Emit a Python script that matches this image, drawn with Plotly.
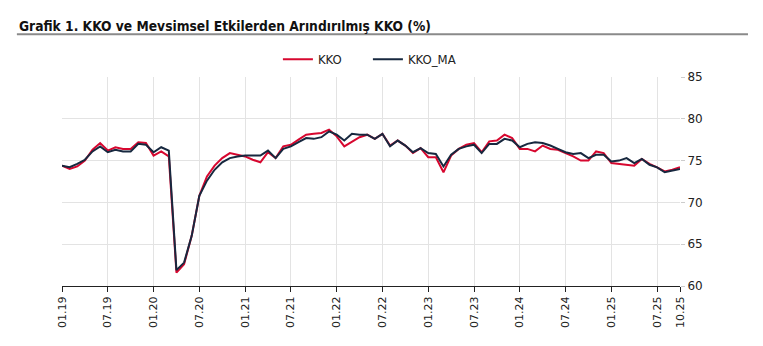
import plotly.graph_objects as go

# Monthly periods, Jan 2019 – Oct 2025
periods = [f"{m:02d}.{y % 100:02d}" for y in range(2019, 2026) for m in range(1, 13)][:82]

tick_labels = ["01.19", "07.19", "01.20", "07.20", "01.21", "07.21", "01.22",
               "07.22", "01.23", "07.23", "01.24", "07.24", "01.25", "07.25", "10.25"]

kko = [74.4, 74.0, 74.3, 75.0, 76.3, 77.1, 76.2, 76.6, 76.4, 76.4, 77.2, 77.1,
       75.6, 76.1, 75.5, 61.6, 62.6, 66.0, 70.8, 73.1, 74.4, 75.3, 75.9, 75.7,
       75.5, 75.1, 74.8, 76.0, 75.3, 76.7, 76.9, 77.5, 78.1, 78.2, 78.3, 78.7,
       77.9, 76.7, 77.3, 77.8, 78.1, 77.6, 78.2, 76.8, 77.4, 76.8, 75.9, 76.5,
       75.4, 75.4, 73.6, 75.6, 76.4, 76.9, 77.1, 76.0, 77.3, 77.4, 78.1, 77.7,
       76.4, 76.4, 76.1, 76.8, 76.4, 76.3, 75.9, 75.5, 75.0, 75.0, 76.1, 75.9,
       74.7, 74.6, 74.5, 74.4, 75.2, 74.6, 74.2, 73.7, 73.9, 74.2]

kko_ma = [74.4, 74.2, 74.6, 75.1, 76.1, 76.7, 76.0, 76.3, 76.1, 76.1, 77.0, 76.9,
          76.0, 76.6, 76.2, 61.9, 62.8, 66.0, 70.8, 72.6, 73.9, 74.8, 75.3, 75.5,
          75.6, 75.6, 75.6, 76.2, 75.3, 76.4, 76.7, 77.2, 77.7, 77.6, 77.8, 78.5,
          78.1, 77.4, 78.2, 78.1, 78.1, 77.6, 78.2, 76.7, 77.4, 76.8, 76.0, 76.5,
          75.9, 75.8, 74.3, 75.7, 76.4, 76.7, 76.9, 75.9, 77.0, 77.0, 77.6, 77.4,
          76.6, 77.0, 77.2, 77.1, 76.8, 76.4, 76.0, 75.8, 75.9, 75.3, 75.7, 75.7,
          74.9, 75.0, 75.3, 74.7, 75.2, 74.5, 74.2, 73.6, 73.8, 74.0]

RED = "#D7072F"
NAVY = "#17283F"
NARROW = "Liberation Sans Narrow, DejaVu Sans Condensed, Roboto"

fig = go.Figure()
fig.add_trace(go.Scatter(x=periods, y=kko, name="KKO", mode="lines",
                         line=dict(color=RED, width=2)))
fig.add_trace(go.Scatter(x=periods, y=kko_ma, name="KKO_MA", mode="lines",
                         line=dict(color=NAVY, width=2)))

# Title and rule beneath it
fig.add_annotation(text="<b>Grafik 1. KKO ve Mevsimsel Etkilerden Arındırılmış KKO (%)</b>",
                   xref="paper", yref="paper", x=-0.073, y=1.245,
                   xanchor="left", yanchor="middle", showarrow=False,
                   font=dict(family=NARROW, size=13.7, color="#111111"))
fig.add_shape(type="line", xref="paper", yref="paper",
              x0=-0.073, x1=1.11, y0=1.205, y1=1.205,
              line=dict(color="#8a8a8a", width=2))

fig.update_layout(
    width=763, height=346,
    margin=dict(l=62, r=83, t=77, b=60),
    paper_bgcolor="white", plot_bgcolor="white",
    showlegend=True,
    legend=dict(orientation="h", x=0.495, xanchor="center", y=1.085, yanchor="middle",
                font=dict(family=NARROW, size=13, color="#222222"),
                itemwidth=30, traceorder="normal", entrywidth=45),
    xaxis=dict(
        type="category",
        range=[0, len(periods) - 1],
        tickmode="array", tickvals=[p for p in periods if p in tick_labels],
        ticktext=[p for p in periods if p in tick_labels],
        tickangle=-90, ticks="outside", ticklen=5, tickcolor="#222222",
        showline=True, linecolor="#222222", linewidth=1,
        showgrid=True, gridcolor="#e3e3e3", gridwidth=1,
        tickfont=dict(family="DejaVu Sans", size=11, color="#222222"),
        zeroline=False,
    ),
    yaxis=dict(
        side="right", range=[60, 85], dtick=5,
        ticks="outside", ticklen=4, tickcolor="#cccccc",
        showgrid=True, gridcolor="#e3e3e3", gridwidth=1,
        showline=False, zeroline=False,
        tickfont=dict(family="DejaVu Sans", size=12, color="#222222"),
    ),
)

fig.write_html("out.html")
